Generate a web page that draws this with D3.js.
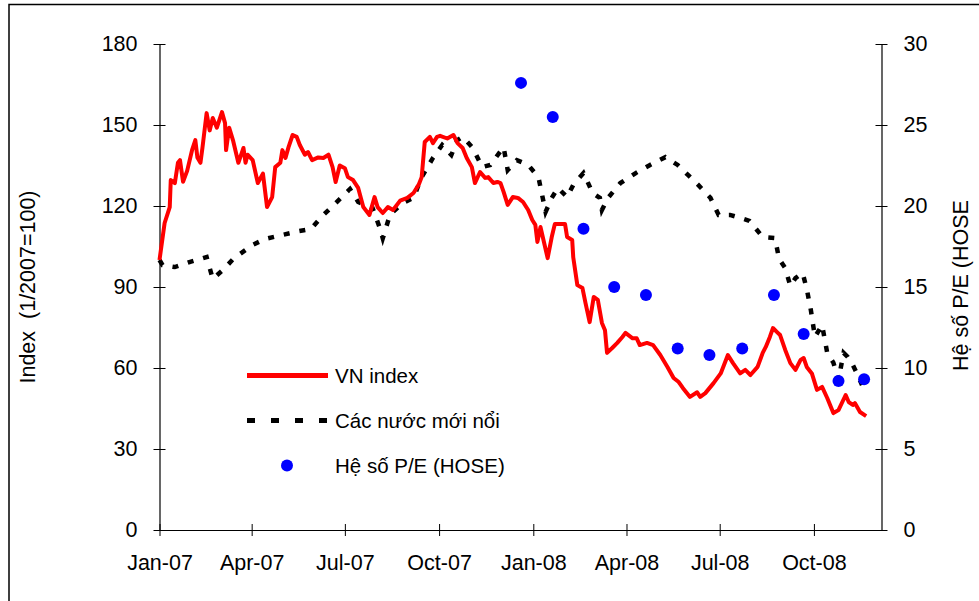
<!DOCTYPE html>
<html>
<head>
<meta charset="utf-8">
<title>VN index vs Emerging markets</title>
<script src="https://cdnjs.cloudflare.com/ajax/libs/d3/7.8.5/d3.min.js"></script>
<style>
	body { margin: 0; background: #fff; }
	text { font-family: "Liberation Sans", Arial, sans-serif; fill: #000; }
</style>
</head>
<body>
<svg id="chart" width="979" height="601"></svg>
<script>

	// VN index, 1/2007 = 100 (left axis)
	var vnIndex = [
		["2007-01-01",100],["2007-01-06",113.7],["2007-01-11",119.6],["2007-01-12",129.6],["2007-01-16",128.5],
		["2007-01-19",136],["2007-01-21",137],["2007-01-24",129],["2007-01-28",133],["2007-02-02",141],
		["2007-02-05",144.4],["2007-02-07",138],["2007-02-10",136],["2007-02-12",141.8],["2007-02-16",154.4],
		["2007-02-19",148],["2007-02-22",152.6],["2007-02-26",149],["2007-03-03",154.8],["2007-03-06",150.7],
		["2007-03-07",140.7],["2007-03-10",149],["2007-03-14",144],["2007-03-19",136],["2007-03-24",141.5],
		["2007-03-26",136],["2007-03-28",139],["2007-04-02",137],["2007-04-07",128.5],["2007-04-12",132],
		["2007-04-16",119.6],["2007-04-21",123.3],["2007-04-24",134.4],["2007-04-29",136],["2007-05-01",140.7],
		["2007-05-04",137.8],["2007-05-07",141.8],["2007-05-11",146.3],["2007-05-15",145.6],["2007-05-18",142.6],
		["2007-05-23",139],["2007-05-26",140],["2007-05-30",137],["2007-06-05",138],["2007-06-10",137.8],
		["2007-06-15",139],["2007-06-19",134.4],["2007-06-22",128.9],["2007-06-26",135],["2007-07-01",134],
		["2007-07-04",130.7],["2007-07-09",129.6],["2007-07-14",126.7],["2007-07-19",119.6],["2007-07-25",116.7],
		["2007-07-30",123.3],["2007-08-02",119.6],["2007-08-07",117.4],["2007-08-12",119.6],["2007-08-17",118.5],
		["2007-08-24",122],["2007-08-31",123],["2007-09-06",124.8],["2007-09-11",127.8],["2007-09-14",130.7],
		["2007-09-17",143.7],["2007-09-22",145.6],["2007-09-25",143.3],["2007-09-29",145.6],["2007-10-02",146],
		["2007-10-09",145],["2007-10-15",146.3],["2007-10-19",143.3],["2007-10-24",141.5],["2007-10-28",137.8],
		["2007-11-02",134.4],["2007-11-05",128.5],["2007-11-10",132.6],["2007-11-15",130.4],["2007-11-18",130.7],
		["2007-11-23",128.5],["2007-11-27",128.9],["2007-11-30",128.5],["2007-12-03",125.2],["2007-12-07",120.4],
		["2007-12-12",123.3],["2007-12-17",123],["2007-12-22",121.5],["2007-12-27",118.5],["2007-12-31",114.8],
		["2008-01-03",113],["2008-01-05",106.7],["2008-01-08",112.2],["2008-01-15",100.7],["2008-01-19",108.5],
		["2008-01-22",113.3],["2008-02-01",113.3],["2008-02-03",108.5],["2008-02-08",107.4],["2008-02-09",101],
		["2008-02-13",90.7],["2008-02-18",89.6],["2008-02-21",84],["2008-02-25",77],["2008-02-29",86.3],
		["2008-03-04",85.2],["2008-03-08",76.7],["2008-03-11",74],["2008-03-13",65.6],["2008-03-18",67.4],
		["2008-03-23",69.3],["2008-03-28",71.5],["2008-03-31",73],["2008-04-07",71],["2008-04-11",71],
		["2008-04-14",68.5],["2008-04-21",69.3],["2008-04-27",68.5],["2008-05-04",64.8],["2008-05-11",60.4],
		["2008-05-17",56.3],["2008-05-22",54.8],["2008-05-26",52.6],["2008-06-02",49.3],["2008-06-09",51],
		["2008-06-12",49.3],["2008-06-17",50.7],["2008-06-25",54.4],["2008-07-02",58],["2008-07-09",64.8],
		["2008-07-14",61.8],["2008-07-21",58],["2008-07-26",59.3],["2008-07-31",57.4],["2008-08-07",60.4],
		["2008-08-12",65.6],["2008-08-15",67.8],["2008-08-19",71.5],["2008-08-22",74.8],["2008-08-26",73.3],
		["2008-08-29",72.2],["2008-09-03",66.7],["2008-09-08",61.8],["2008-09-13",59.3],["2008-09-18",63],
		["2008-09-21",63.7],["2008-09-24",60.4],["2008-09-29",58],["2008-10-04",51.9],["2008-10-09",53],
		["2008-10-14",48.9],["2008-10-20",43.3],["2008-10-25",44.4],["2008-11-01",50],["2008-11-04",47.4],
		["2008-11-08",46.3],["2008-11-10",47],["2008-11-15",43.7],["2008-11-21",42.2]
	];

	// Cac nuoc moi noi (emerging markets), 1/2007 = 100 (left axis)
	var emerging = [
		["2007-01-01",100],["2007-01-04",98.1],["2007-01-16",97.4],["2007-01-31",99.3],["2007-02-16",101.1],
		["2007-02-22",93],["2007-03-05",96.7],["2007-03-14",100.4],["2007-04-02",105.6],["2007-04-14",107.8],
		["2007-05-01",109.3],["2007-05-17",110.7],["2007-05-29",111.5],["2007-06-09",116.3],["2007-06-21",120.7],
		["2007-07-06",126.3],["2007-07-14",121.5],["2007-07-28",119.3],["2007-08-04",112],["2007-08-07",108],
		["2007-08-14",116.7],["2007-08-26",121],["2007-09-06",123],["2007-09-14",130.7],["2007-09-25",137.8],
		["2007-10-04",142.6],["2007-10-13",138.9],["2007-10-19",144.4],["2007-10-24",145.6],["2007-11-03",141.5],
		["2007-11-12",134.4],["2007-11-20",135.2],["2007-12-03",141.8],["2007-12-07",133.3],["2007-12-16",137],
		["2007-12-27",135.2],["2008-01-06",130.7],["2008-01-11",121.5],["2008-01-13",117.8],["2008-01-19",123],
		["2008-01-25",126.7],["2008-02-03",123.3],["2008-02-09",127.8],["2008-02-19",132.2],["2008-02-28",124.8],
		["2008-03-06",123],["2008-03-08",118.5],["2008-03-14",123],["2008-03-26",128.5],["2008-04-10",132.2],
		["2008-04-24",135.2],["2008-05-09",138.1],["2008-05-21",135.2],["2008-05-31",131.5],["2008-06-10",127.8],
		["2008-06-22",123],["2008-06-30",116.7],["2008-07-11",116.7],["2008-07-21",115.6],["2008-07-30",114.5],
		["2008-08-12",108.5],["2008-08-24",108.1],["2008-08-28",100.4],["2008-09-03",97],["2008-09-08",90.4],
		["2008-09-13",93.3],["2008-09-20",95.2],["2008-09-24",89.3],["2008-09-28",81.5],["2008-10-02",71.5],
		["2008-10-09",75.9],["2008-10-14",65.6],["2008-10-20",62],["2008-10-25",55.6],["2008-10-30",65.6],
		["2008-11-03",64.1],["2008-11-08",61.1],["2008-11-12",58],["2008-11-17",53.7]
	];

	// He so P/E (HOSE), right axis
	var peDates = ["2007-12-20","2008-01-20","2008-02-19","2008-03-20","2008-04-20","2008-05-21",
		"2008-06-21","2008-07-23","2008-08-23","2008-09-21","2008-10-25","2008-11-19"];
	var peValues = [27.6, 25.5, 18.6, 15.0, 14.5, 11.2, 10.8, 11.2, 14.5, 12.1, 9.2, 9.3];

	var xTicks = ["2007-01-01","2007-04-01","2007-07-01","2007-10-01","2008-01-01","2008-04-01","2008-07-01","2008-10-01"];
	var leftTicks = [0, 30, 60, 90, 120, 150, 180];
	var rightTicks = [0, 5, 10, 15, 20, 25, 30];

	var legendNames = ["VN index", "Các nước mới nổi", "Hệ số P/E (HOSE)"];

	var parseDate = d3.timeParse("%Y-%m-%d");
	var svg = d3.select("#chart");

	var plotLeft = 159.5, plotRight = 881.5, plotTop = 44, plotBottom = 530;

	var x = d3.scaleTime()
		.domain([parseDate("2007-01-01"), parseDate("2008-12-06")])
		.range([plotLeft, plotRight]);
	var yL = d3.scaleLinear().domain([0, 180]).range([plotBottom, plotTop]);
	var yR = d3.scaleLinear().domain([0, 30]).range([plotBottom, plotTop]);

	// outer frame
	svg.append("rect")
		.attr("x", 9).attr("y", 4.5)
		.attr("width", 1000).attr("height", 700)
		.attr("fill", "none").attr("stroke", "#000").attr("stroke-width", 1.5);

	function styleAxis(g, a, b, vertical) {
		g.select(".domain").attr("stroke", "#000").attr("stroke-width", 1.2);
		g.selectAll(".tick line").attr("stroke", "#000");
		if (vertical) {
			g.selectAll(".tick line").attr("y1", a).attr("y2", b);
		} else {
			g.selectAll(".tick line").attr("x1", a).attr("x2", b);
		}
		g.selectAll("text")
			.attr("font-family", "Liberation Sans, Arial, sans-serif")
			.attr("font-size", 21.5)
			.attr("fill", "#000");
	}

	var gx = svg.append("g")
		.attr("transform", "translate(0," + plotBottom + ")")
		.call(d3.axisBottom(x)
			.tickValues(xTicks.map(parseDate))
			.tickFormat(d3.timeFormat("%b-%y"))
			.tickSizeOuter(0)
			.tickPadding(19));
	styleAxis(gx, -6, 6, true);

	var gl = svg.append("g")
		.attr("transform", "translate(" + plotLeft + ",0)")
		.call(d3.axisLeft(yL).tickValues(leftTicks).tickSizeOuter(0).tickPadding(16));
	styleAxis(gl, -6, 6, false);

	var gr = svg.append("g")
		.attr("transform", "translate(" + plotRight + ",0)")
		.call(d3.axisRight(yR).tickValues(rightTicks).tickSizeOuter(0).tickPadding(16));
	styleAxis(gr, -6, 6, false);

	// axis titles
	svg.append("text")
		.attr("transform", "translate(35," + ((plotTop + plotBottom) / 2) + ") rotate(-90)")
		.attr("text-anchor", "middle")
		.attr("font-size", 21.5)
		.style("white-space", "pre")
		.text("Index  (1/2007=100)");

	svg.append("text")
		.attr("transform", "translate(968,371) rotate(-90)")
		.attr("text-anchor", "start")
		.attr("font-size", 21.5)
		.text("Hệ số P/E (HOSE");

	var line = d3.line()
		.x(function(d) { return x(parseDate(d[0])); })
		.y(function(d) { return yL(d[1]); });

	svg.append("path")
		.datum(emerging)
		.attr("fill", "none")
		.attr("stroke", "#000")
		.attr("stroke-width", 4.5)
		.attr("stroke-dasharray", "6,10")
		.attr("d", line);

	svg.append("path")
		.datum(vnIndex)
		.attr("fill", "none")
		.attr("stroke", "#ff0000")
		.attr("stroke-width", 4)
		.attr("stroke-linejoin", "round")
		.attr("d", line);

	svg.selectAll(".pe")
		.data(peValues)
		.enter().append("circle")
		.attr("class", "pe")
		.attr("cx", function(d, i) { return x(parseDate(peDates[i])); })
		.attr("cy", function(d) { return yR(d); })
		.attr("r", 6)
		.attr("fill", "#0000ff");

	// legend
	var lg = svg.append("g");
	lg.append("line")
		.attr("x1", 247).attr("x2", 328).attr("y1", 375.5).attr("y2", 375.5)
		.attr("stroke", "#ff0000").attr("stroke-width", 5);
	lg.append("line")
		.attr("x1", 247).attr("x2", 328).attr("y1", 420.5).attr("y2", 420.5)
		.attr("stroke", "#000").attr("stroke-width", 5)
		.attr("stroke-dasharray", "8,16");
	lg.append("circle")
		.attr("cx", 287).attr("cy", 465.5).attr("r", 6)
		.attr("fill", "#0000ff");
	lg.selectAll(".lt")
		.data(legendNames)
		.enter().append("text")
		.attr("class", "lt")
		.attr("x", 335)
		.attr("y", function(d, i) { return 383 + i * 45; })
		.attr("font-size", 20.5)
		.text(function(d) { return d; });

</script>
</body>
</html>
